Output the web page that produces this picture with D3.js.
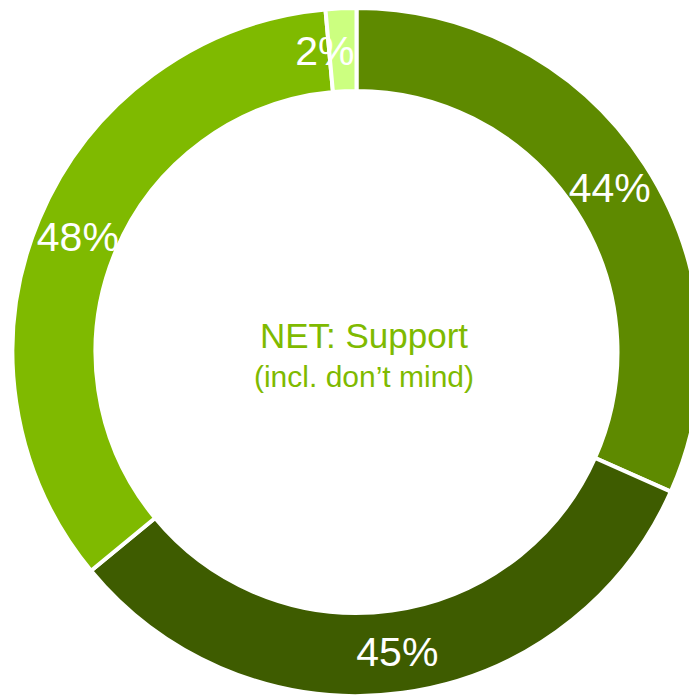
<!DOCTYPE html>
<html>
<head>
<meta charset="utf-8">
<script src="https://cdn.jsdelivr.net/npm/d3@7/dist/d3.min.js"></script>
<style>
  html, body { margin: 0; padding: 0; background: #ffffff; }
  svg { display: block; }
</style>
</head>
<body>
<svg id="chart" width="689" height="697"></svg>
<script>
// Segments of the support donut (clockwise from 12 o'clock)
const categories = ["Strongly support", "Support", "Don't mind", "Other"];
const values = [44, 45, 48, 2];
const labels = ["44%", "45%", "48%", "2%"];
const colors = ["#5e8a00", "#3e5c00", "#7fba00", "#ccff80"];
const labelShiftX = [0, 0, 0, -18];
const centerTitle = "NET: Support";
const centerSubtitle = "(incl. don\u2019t mind)";

const svg = d3.select("#chart");
const cx = 356.5, cy = 352;
const innerR = 261, outerR = 344;

const g = svg.append("g").attr("transform", `translate(${cx},${cy})`);

const pie = d3.pie().sort(null).value(d => d.value);
const data = pie(categories.map((c, i) => ({ name: c, value: values[i], label: labels[i], color: colors[i], dx: labelShiftX[i] })));

const arc = d3.arc().innerRadius(innerR).outerRadius(outerR);
const labelArc = d3.arc().innerRadius(302).outerRadius(302);

g.selectAll("path.slice")
  .data(data)
  .join("path")
  .attr("class", "slice")
  .attr("d", arc)
  .attr("fill", d => d.data.color)
  .attr("stroke", "#ffffff")
  .attr("stroke-width", 4)
  .attr("stroke-linejoin", "miter");

g.selectAll("text.value")
  .data(data)
  .join("text")
  .attr("class", "value")
  .attr("x", d => labelArc.centroid(d)[0] + d.data.dx)
  .attr("y", d => labelArc.centroid(d)[1] + 15)
  .attr("text-anchor", "middle")
  .attr("font-family", "'Liberation Sans', Arial, Helvetica, sans-serif")
  .attr("font-size", 41)
  .attr("fill", "#ffffff")
  .text(d => d.data.label);

svg.append("text")
  .attr("x", 364)
  .attr("y", 348)
  .attr("text-anchor", "middle")
  .attr("font-family", "'Liberation Sans', Arial, Helvetica, sans-serif")
  .attr("font-size", 35)
  .attr("fill", "#7fba00")
  .text(centerTitle);

svg.append("text")
  .attr("x", 364)
  .attr("y", 387)
  .attr("text-anchor", "middle")
  .attr("font-family", "'Liberation Sans', Arial, Helvetica, sans-serif")
  .attr("font-size", 30)
  .attr("fill", "#7fba00")
  .text(centerSubtitle);
</script>
</body>
</html>
